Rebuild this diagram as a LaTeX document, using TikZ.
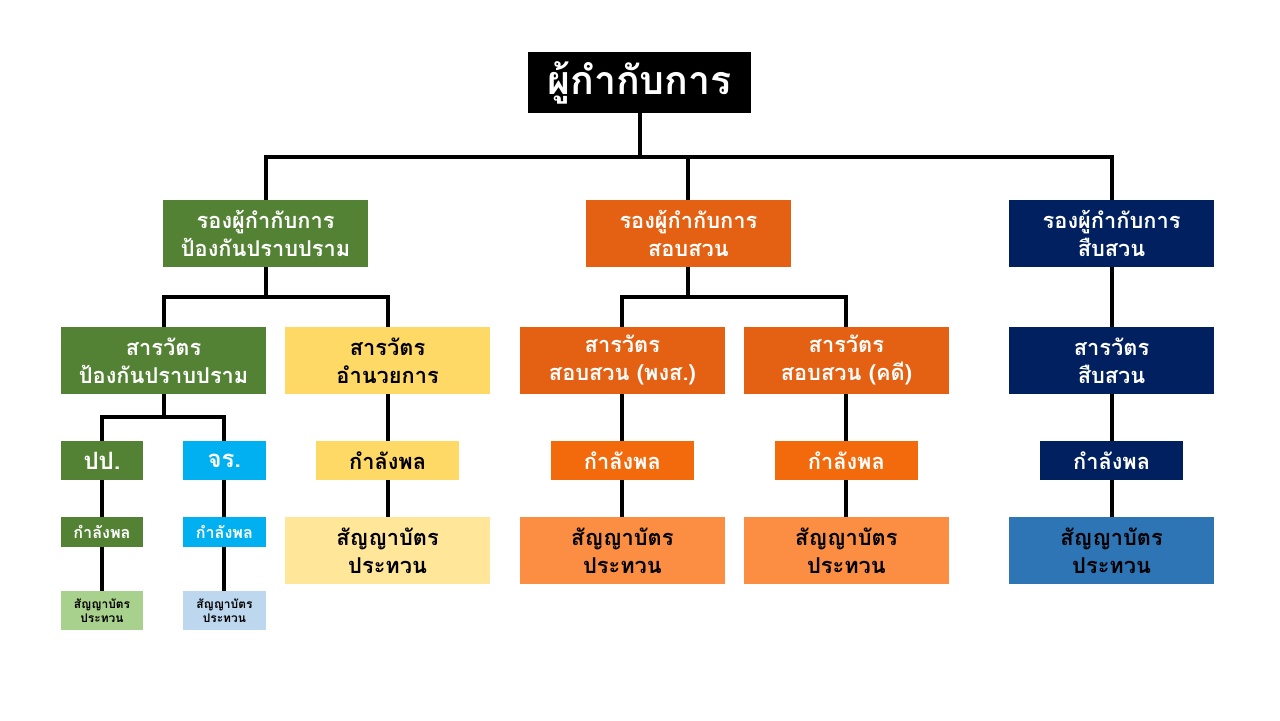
\documentclass[tikz,border=0pt]{standalone}
\usepackage{fontspec}
\newfontfamily\thaifont[Script=Thai]{Loma}
\usetikzlibrary{positioning}
\definecolor{ChiefBlack}{HTML}{000000}
\definecolor{SuppGreen}{HTML}{548235}
\definecolor{InvOrange}{HTML}{E46113}
\definecolor{ForceOrange}{HTML}{F26A0B}
\definecolor{RankOrange}{HTML}{FB8E42}
\definecolor{DetNavy}{HTML}{002060}
\definecolor{RankBlue}{HTML}{2E75B6}
\definecolor{AdminYellow}{HTML}{FFD966}
\definecolor{RankYellow}{HTML}{FFE699}
\definecolor{TrafficCyan}{HTML}{00B0F0}
\definecolor{RankLightGreen}{HTML}{A9D18E}
\definecolor{RankLightBlue}{HTML}{BDD7EE}
\tikzset{
	box/.style={ % every box of the chart
			rectangle,
			inner sep=0pt,
			align=center,
			text=white
		},
	wide/.style={box, minimum width=5.125cm, minimum height=1.675cm,
			font=\thaifont\bfseries\fontsize{15.5}{20}\selectfont},
	force/.style={box, minimum width=3.575cm, minimum height=0.975cm,
			font=\thaifont\bfseries\fontsize{15.5}{20}\selectfont},
	unit/.style={box, minimum width=2.06cm, minimum height=0.975cm,
			font=\thaifont\bfseries\fontsize{17}{20}\selectfont},
	unitforce/.style={box, minimum width=2.06cm, minimum height=0.75cm,
			font=\thaifont\bfseries\fontsize{11.5}{12}\selectfont},
	unitrank/.style={box, minimum width=2.06cm, minimum height=0.975cm,
			font=\thaifont\bfseries\fontsize{8.5}{10}\selectfont, text=black},
	link/.style={draw, line width=2.8pt}
}

\begin{document}
\begin{tikzpicture}
	\useasboundingbox[fill=white] (0,0) rectangle (32,-18);
	% Nodes
	\node (chief) [box, fill=ChiefBlack, minimum width=5.575cm, minimum height=1.525cm,
		font=\thaifont\bfseries\fontsize{28}{30}\selectfont] at (15.99,-2.06) {ผู้กำกับการ};

	\node (depA) [wide, fill=SuppGreen] at (6.64,-5.84) {รองผู้กำกับการ\\ป้องกันปราบปราม};
	\node (depB) [wide, fill=InvOrange] at (17.21,-5.84) {รองผู้กำกับการ\\สอบสวน};
	\node (depC) [wide, fill=DetNavy] at (27.79,-5.84) {รองผู้กำกับการ\\สืบสวน};

	\node (insA) [wide, fill=SuppGreen] at (4.09,-9.01) {สารวัตร\\ป้องกันปราบปราม};
	\node (insB) [wide, fill=AdminYellow, text=black] at (9.69,-9.01) {สารวัตร\\อำนวยการ};
	\node (insC) [wide, fill=InvOrange] at (15.56,-9.01) {สารวัตร\\สอบสวน (พงส.)};
	\node (insD) [wide, fill=InvOrange] at (21.16,-9.01) {สารวัตร\\สอบสวน (คดี)};
	\node (insE) [wide, fill=DetNavy] at (27.79,-9.01) {สารวัตร\\สืบสวน};

	\node (pp) [unit, fill=SuppGreen] at (2.55,-11.51) {ปป.};
	\node (jr) [unit, fill=TrafficCyan] at (5.61,-11.51) {จร.};
	\node (forceB) [force, fill=AdminYellow, text=black] at (9.69,-11.51) {กำลังพล};
	\node (forceC) [force, fill=ForceOrange] at (15.56,-11.51) {กำลังพล};
	\node (forceD) [force, fill=ForceOrange] at (21.16,-11.51) {กำลังพล};
	\node (forceE) [force, fill=DetNavy] at (27.79,-11.51) {กำลังพล};

	\node (forcePP) [unitforce, fill=SuppGreen] at (2.55,-13.3) {กำลังพล};
	\node (forceJR) [unitforce, fill=TrafficCyan] at (5.61,-13.3) {กำลังพล};
	\node (rankB) [wide, fill=RankYellow, text=black] at (9.69,-13.76) {สัญญาบัตร\\ประทวน};
	\node (rankC) [wide, fill=RankOrange, text=black] at (15.56,-13.76) {สัญญาบัตร\\ประทวน};
	\node (rankD) [wide, fill=RankOrange, text=black] at (21.16,-13.76) {สัญญาบัตร\\ประทวน};
	\node (rankE) [wide, fill=RankBlue, text=black] at (27.79,-13.76) {สัญญาบัตร\\ประทวน};

	\node (rankPP) [unitrank, fill=RankLightGreen] at (2.55,-15.26) {สัญญาบัตร\\ประทวน};
	\node (rankJR) [unitrank, fill=RankLightBlue] at (5.61,-15.26) {สัญญาบัตร\\ประทวน};

	% Bus lines
	\coordinate (busTop) at (15.99,-3.925);
	\coordinate (busA) at (6.64,-7.425);
	\coordinate (busB) at (17.21,-7.425);
	\coordinate (busPP) at (4.09,-10.425);

	% Links
	\draw[link] (chief) -- (busTop);
	\draw[link] (depA) |- (busTop) -| (depC);
	\draw[link] (depB) -- (depB |- busTop);
	\draw[link] (depA) -- (busA);
	\draw[link] (insA) |- (busA) -| (insB);
	\draw[link] (depB) -- (busB);
	\draw[link] (insC) |- (busB) -| (insD);
	\draw[link] (depC) -- (insE);
	\draw[link] (insA) -- (busPP);
	\draw[link] (pp) |- (busPP) -| (jr);
	\draw[link] (pp) -- (forcePP);
	\draw[link] (forcePP) -- (rankPP);
	\draw[link] (jr) -- (forceJR);
	\draw[link] (forceJR) -- (rankJR);
	\draw[link] (insB) -- (forceB);
	\draw[link] (forceB) -- (rankB);
	\draw[link] (insC) -- (forceC);
	\draw[link] (forceC) -- (rankC);
	\draw[link] (insD) -- (forceD);
	\draw[link] (forceD) -- (rankD);
	\draw[link] (insE) -- (forceE);
	\draw[link] (forceE) -- (rankE);
\end{tikzpicture}
\end{document}
